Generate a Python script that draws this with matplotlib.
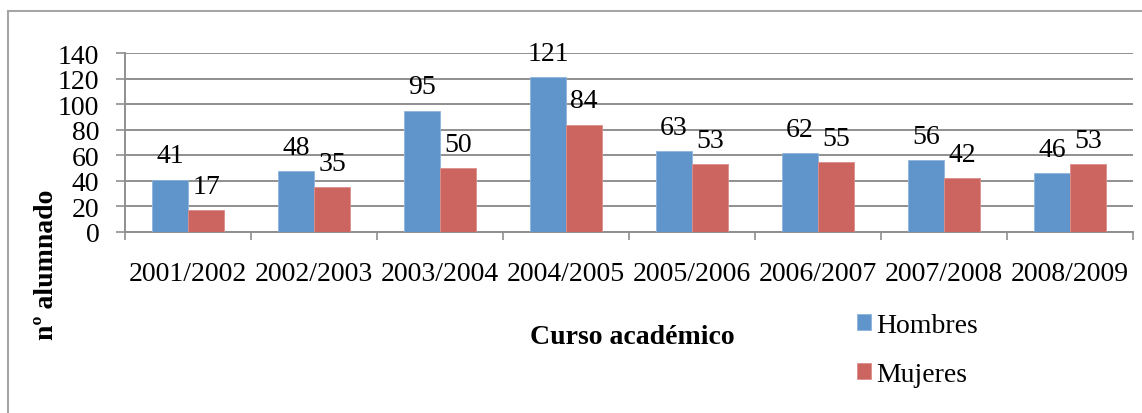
import numpy as np
import matplotlib
matplotlib.use("Agg")
import matplotlib.pyplot as plt
from matplotlib.lines import Line2D

plt.rcParams['font.family'] = ['Liberation Serif', 'DejaVu Serif']

cursos = ['2001/2002', '2002/2003', '2003/2004', '2004/2005',
          '2005/2006', '2006/2007', '2007/2008', '2008/2009']
hombres = [41, 48, 95, 121, 63, 62, 56, 46]
mujeres = [17, 35, 50, 84, 53, 55, 42, 53]

blue = '#5f95cb'
red = '#cc6560'
grid_c = '#8f8f8f'
fs = 20

fig = plt.figure(figsize=(11.42, 4.14), dpi=100)
ax = fig.add_axes([125 / 1142, 181 / 414, (1133 - 125) / 1142, (360 - 181) / 414])

x = np.arange(len(cursos)) + 0.5
w = 36 / 126
b1 = ax.bar(x - w / 2, hombres, w, color=blue, edgecolor='#8fb4dc', linewidth=0.6, zorder=3)
b2 = ax.bar(x + w / 2, mujeres, w, color=red, edgecolor='#dc8f8b', linewidth=0.6, zorder=3)
ax.bar_label(b1, padding=8, fontsize=fs)
ax.bar_label(b2, padding=8, fontsize=fs)

ax.set_xlim(0, len(cursos))
ax.set_ylim(0, 140)
ax.set_yticks(np.arange(0, 141, 20))
ax.yaxis.grid(True, color=grid_c, linewidth=1.4, zorder=0)
ax.set_axisbelow(True)

ax.set_xticks(np.arange(0, len(cursos) + 1))
ax.set_xticklabels([])
ax.set_xticks(x, minor=True)
ax.set_xticklabels(cursos, minor=True, fontsize=fs)
ax.tick_params(axis='x', which='major', direction='out', length=6, width=1.2, color=grid_c)
ax.tick_params(axis='x', which='minor', length=0, pad=21)
ax.tick_params(axis='y', direction='out', length=6.5, width=1.2, color=grid_c, pad=12, labelsize=fs)

for s in ['top', 'right']:
    ax.spines[s].set_visible(False)
for s in ['left', 'bottom']:
    ax.spines[s].set_color(grid_c)
    ax.spines[s].set_linewidth(1.4)

fig.text(632 / 1142, 1 - 338 / 414, 'Curso académico', fontsize=fs, fontweight='bold',
         ha='center', va='center')
fig.text(47 / 1142, 1 - 265 / 414, 'nº alumnado', fontsize=fs, fontweight='bold',
         rotation=90, ha='center', va='center')

fig.legend([b1, b2], ['Hombres', 'Mujeres'], loc='upper left',
           bbox_to_anchor=(857 / 1142, 1 - 314 / 414), frameon=False, fontsize=fs,
           handlelength=0.5, handleheight=0.5, handletextpad=0.2, labelspacing=0.85,
           borderpad=0, borderaxespad=0)

# chart border (top and left only)
fig.add_artist(Line2D([8 / 1142, 8 / 1142], [0, 1 - 12 / 414], transform=fig.transFigure,
                      color='#a6a6a6', linewidth=1.5))
fig.add_artist(Line2D([8 / 1142, 1], [1 - 12 / 414, 1 - 12 / 414], transform=fig.transFigure,
                      color='#a6a6a6', linewidth=1.5))

fig.savefig('out.png', dpi=100)
